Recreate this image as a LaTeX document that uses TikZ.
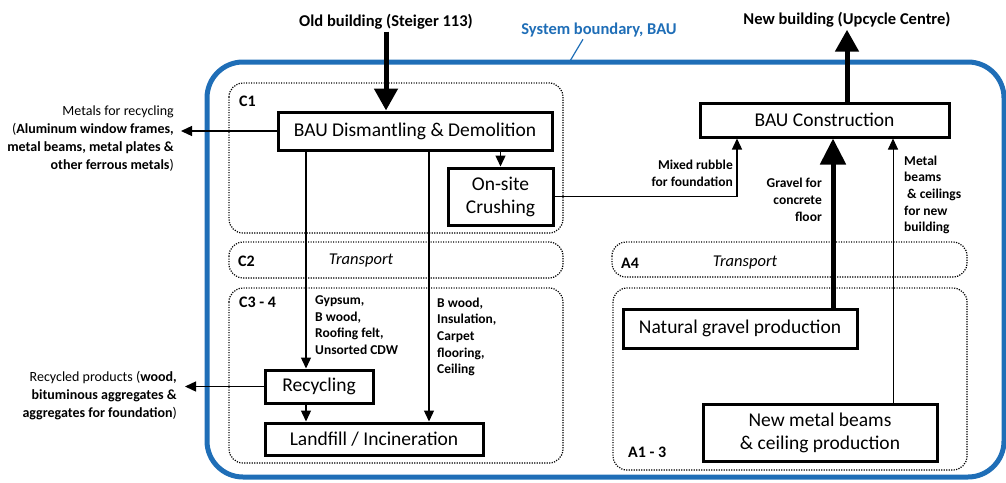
\documentclass[tikz,border=0pt]{standalone}
\usepackage{fontspec}
\setmainfont{Carlito}
\usetikzlibrary{arrows.meta,positioning}
\definecolor{baublue}{RGB}{31,110,183}

\begin{document}
\begin{tikzpicture}[x=1pt,y=-1pt,
	processnode/.style={rectangle,draw,line width=3pt,inner sep=0pt,align=center,font=\fontsize{19.5}{23}\selectfont},
	titlenode/.style={inner sep=2pt,font=\bfseries\fontsize{16.5}{19}\selectfont},
	stagenode/.style={inner sep=0pt,anchor=west,font=\bfseries\fontsize{16}{19}\selectfont},
	transnode/.style={inner sep=0pt,font=\itshape\fontsize{16.5}{19}\selectfont},
	flownode/.style={inner sep=0pt,font=\bfseries\fontsize{13.5}{16.7}\selectfont},
	sidenode/.style={inner sep=0pt,anchor=east,align=right,font=\fontsize{14}{18}\selectfont},
	stagebox/.style={draw,line width=1.2pt,dash pattern=on 1.2pt off 1.3pt,rounded corners=14pt},
	flow/.style={-{Triangle[length=11pt,width=10pt]},line width=1.3pt},
	mainflow/.style={-{Triangle[length=22pt,width=23pt]},line width=5pt}]
	
	\useasboundingbox (0,0) rectangle (1006,482);
	
	% system boundary
	\draw[baublue, line width=5pt, rounded corners=36pt] (207,62) rectangle (1004,477);
	\node [titlenode, text=baublue] (sysb) at (599,30) {System boundary, BAU};
	\coordinate (sysedge) at (570,61);
	\draw[baublue, line width=1.2pt] ([xshift=-16pt]sysb.south) -- (sysedge);
	
	% stages
	\draw[stagebox] (229,83) rectangle (563,233);
	\draw[stagebox] (229,242) rectangle (563,278);
	\draw[stagebox] (229,288) rectangle (563,463);
	\draw[stagebox] (612,242) rectangle (967,277);
	\draw[stagebox] (613,288) rectangle (967,470);
	
	\node [stagenode] (c1) at (239,101) {C1};
	\node [stagenode] (c2) at (238,261) {C2};
	\node [transnode] (c2t) at (361,261) {Transport};
	\node [stagenode] (c34) at (239,302) {C3 - 4};
	\node [stagenode] (a4) at (621,263) {A4};
	\node [transnode] (a4t) at (745,263) {Transport};
	\node [stagenode] (a13) at (628,452) {A1 - 3};
	
	% processes
	\node [processnode, minimum width=274pt, minimum height=38pt] (dd) at (415,131) {BAU Dismantling \& Demolition};
	\node [processnode, minimum width=105pt, minimum height=57pt] (crush) at (500.5,196.5) {On-site\\Crushing};
	\node [processnode, minimum width=108pt, minimum height=33pt] (recyc) at (319,386.5) {Recycling};
	\node [processnode, minimum width=218pt, minimum height=32pt] (landfill) at (374,439) {Landfill / Incineration};
	\node [processnode, minimum width=249pt, minimum height=34pt] (constr) at (824.5,120) {BAU Construction};
	\node [processnode, minimum width=234pt, minimum height=39pt] (gravel) at (740,328.5) {Natural gravel production};
	\node [processnode, minimum width=234pt, minimum height=57pt] (metal) at (820,432.5) {New metal beams\\\& ceiling production};
	
	% in and out
	\node [titlenode] (oldb) at (386,22) {Old building (Steiger 113)};
	\node [titlenode] (newb) at (847,20) {New building (Upcycle Centre)};
	\node [sidenode] (metals) at (174,139) {Metals for recycling\\(\textbf{Aluminum window frames,}\\\textbf{metal beams, metal plates \&}\\\textbf{other ferrous metals})};
	\node [sidenode] (recout) at (177,396) {Recycled products (\textbf{wood,}\\\textbf{bituminous aggregates \&}\\\textbf{aggregates for foundation})};
	
	% flow labels
	\node [flownode, anchor=west, align=left] (gyps) at (315,325) {Gypsum,\\B wood,\\Roofing felt,\\Unsorted CDW};
	\node [flownode, anchor=west, align=left] (bwood) at (437,337) {B wood,\\Insulation,\\Carpet\\flooring,\\Ceiling};
	\node [flownode, anchor=east, align=right] (rubble) at (733,173) {Mixed rubble\\for foundation};
	\node [flownode, anchor=east, align=right] (gravfor) at (822,200) {Gravel for\\concrete\\floor};
	\node [flownode, anchor=west, align=left] (beams) at (904,195) {Metal\\beams\\\hspace*{3pt}\& ceilings\\for new\\building};
	
	\coordinate (gyp) at (306,0);
	\coordinate (bwd) at (429,0);
	\coordinate (rub) at (737,0);
	\coordinate (grv) at (833,0);
	\coordinate (mtl) at (893,0);
	
	\draw[mainflow] (oldb.south) to (oldb.south |- dd.north);
	\draw[mainflow] (newb.south |- constr.north) to (newb.south);
	\draw[flow] (dd.west) to ([xshift=7pt]dd.west -| metals.east);
	\draw[flow] (crush.north |- dd.south) to (crush.north);
	\draw[flow] (gyp |- dd.south) to (gyp |- recyc.north);
	\draw[flow] (bwd |- dd.south) to (bwd |- landfill.north);
	\draw[flow] (gyp |- recyc.south) to (gyp |- landfill.north);
	\draw[flow] (recyc.west) to ([xshift=8pt]recyc.west -| recout.east);
	\draw[flow] (crush.east) -| (rub |- constr.south);
	\draw[-{Triangle[length=26pt,width=25pt]}, line width=5pt] (grv |- gravel.north) to (grv |- constr.south);
	\draw[flow, line width=1pt] (mtl |- metal.north) to (mtl |- constr.south);
	
\end{tikzpicture}
\end{document}
